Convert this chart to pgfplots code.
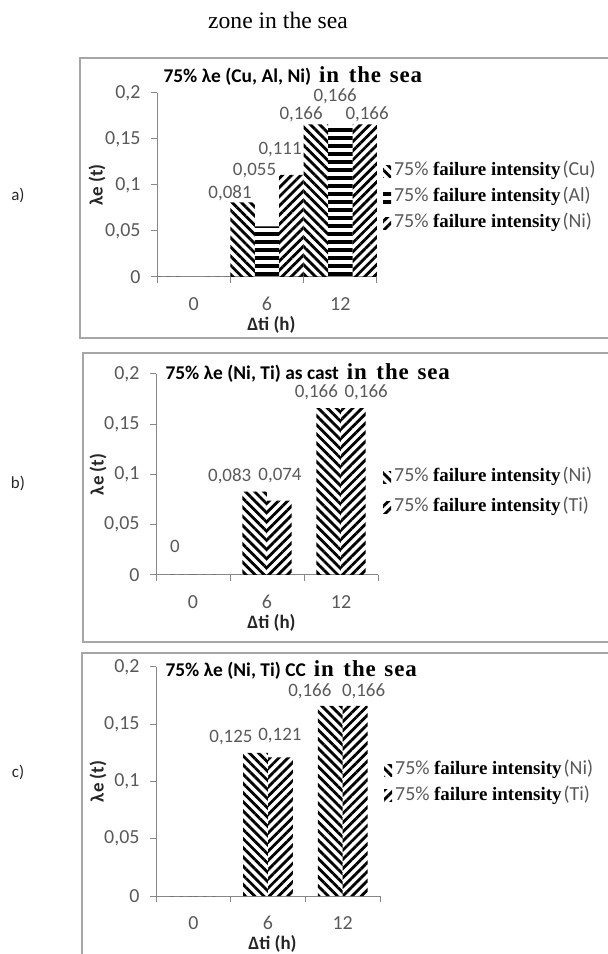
\documentclass[border=0pt]{standalone}
\usepackage{pgfplots}
\pgfplotsset{compat=1.18}
\usetikzlibrary{patterns.meta}
\usepackage{fontspec}
\setmainfont{Carlito}
\newfontfamily\serif{Liberation Serif}
\newfontfamily\titleserif{Liberation Serif}[LetterSpace=4]
\definecolor{labgray}{HTML}{595959}
\definecolor{axgray}{HTML}{878787}
\definecolor{framegray}{HTML}{A6A6A6}
\definecolor{txt}{HTML}{262626}
\tikzset{
  pNW/.style={pattern={Lines[angle=-45,distance=6.5bp,line width=2.8bp]}},
  pNE/.style={pattern={Lines[angle=45,distance=6.5bp,line width=2.8bp]}},
  pH/.style={pattern={Lines[angle=0,distance=8bp,line width=3.5bp]}},
  lab/.style={font=\fontsize{19}{19}\selectfont, text=labgray, inner sep=0pt},
}
\newcommand{\leg}[1]{{\color{labgray}75\%} {\serif\bfseries\fontsize{19}{19}\selectfont failure intensity}\kern2bp{\color{labgray}(#1)}}
\pgfplotsset{
  panel/.style={
    scale only axis, anchor=south west,
    xmin=-0.5, xmax=2.5, ymin=0, ymax=0.2,
    axis x line*=bottom, axis y line*=left,
    axis line style={axgray, line width=1bp},
    xtick={0,1,2}, xticklabels={0,6,12},
    minor xtick={-0.5,0.5,1.5,2.5},
    ytick={0,0.05,0.1,0.15,0.2},
    yticklabels={0,{0,05},{0,1},{0,15},{0,2}},
    tick align=outside,
    major tick length=6bp, minor tick length=6bp,
    tick style={axgray, line width=1bp},
    major x tick style={draw=none},
    /pgf/number format/assume math mode=true,
    ticklabel style={font=\fontsize{20}{20}\selectfont, text=labgray},
    yticklabel style={xshift=-7bp},
    xticklabel style={yshift=-11bp},
    xlabel={Δti (h)}, ylabel={λe (t)},
    label style={font=\bfseries\fontsize{19}{19}\selectfont, text=txt},
    xlabel style={at={(axis description cs:0.52,0)}, anchor=center, yshift=-48bp},
    legend cell align=left,
    legend style={draw=none, fill=none, inner sep=0pt, anchor=north west,
      font=\fontsize{20}{20}\selectfont,
      nodes={inner sep=1bp, text height=14bp, text depth=5bp, anchor=west},
      column sep=2bp},
    clip=false,
  },
  bars/.style={ybar, bar width=0.3333, draw=none, bar shift=#1},
}
\begin{document}
\begin{tikzpicture}
\useasboundingbox (0,0) rectangle (608bp,954bp);
% frames
\draw[framegray, line width=1.5bp] (80bp,896bp) rectangle (612bp,616bp);
\draw[framegray, line width=1.5bp] (83bp,601bp) rectangle (612bp,312bp);
\draw[framegray, line width=1.5bp] (82bp,301bp) rectangle (612bp,-3bp);
% main title
\node at (278bp,934bp) {\serif\fontsize{23.7}{24}\selectfont zone in the sea};
% panel letters
\node[text=txt, font=\fontsize{17}{17}\selectfont] at (18bp,759bp) {a)};
\node[text=txt, font=\fontsize{17}{17}\selectfont] at (18bp,471bp) {b)};
\node[text=txt, font=\fontsize{17}{17}\selectfont] at (18bp,182bp) {c)};

% ---------------- panel a
\begin{axis}[panel, at={(157bp,677bp)}, width=220bp, height=184bp,
  ylabel style={at={(axis description cs:-0.273,0.5)}, anchor=center},
  legend style={at={(axis description cs:1.027,0.633)}, row sep=5bp}]
\addplot[bars=-0.3333, pNW, legend image code/.code={\fill[pNW] (0bp,-6bp) rectangle (8bp,6bp);}]
  coordinates {(0,0) (1,0.081) (2,0.166)};
\addlegendentry{\leg{Cu}}
\addplot[bars=0, pH, legend image code/.code={\fill[pH] (0bp,-6bp) rectangle (8bp,6bp);}]
  coordinates {(0,0) (1,0.055) (2,0.166)};
\addlegendentry{\leg{Al}}
\addplot[bars=0.3333, pNE, legend image code/.code={\fill[pNE] (0bp,-6bp) rectangle (8bp,6bp);}]
  coordinates {(0,0) (1,0.111) (2,0.166)};
\addlegendentry{\leg{Ni}}
\node[lab] at (axis cs:0.496,0.0913) {0,081};
\node[lab] at (axis cs:0.83,0.116) {0,055};
\node[lab] at (axis cs:1.178,0.138) {0,111};
\node[lab] at (axis cs:1.465,0.177) {0,166};
\node[lab] at (axis cs:1.93,0.196) {0,166};
\node[lab] at (axis cs:2.365,0.177) {0,166};
\end{axis}
\node[anchor=base west, text=black] at (160bp,871bp) {\bfseries\fontsize{19.5}{20}\selectfont 75\% λe (Cu, Al, Ni)\hspace{8bp}{\titleserif\fontsize{23}{23}\selectfont in\hspace{3bp} the\hspace{2bp} sea}};

% ---------------- panel b
\begin{axis}[panel, at={(156bp,379bp)}, width=222bp, height=201bp,
  ylabel style={at={(axis description cs:-0.261,0.5)}, anchor=center},
  legend style={at={(axis description cs:1.0225,0.540)}, row sep=9bp}]
\addplot[bars=-0.1667, pNW, legend image code/.code={\fill[pNW] (0bp,-6bp) rectangle (8bp,6bp);}]
  coordinates {(0,0) (1,0.083) (2,0.166)};
\addlegendentry{\leg{Ni}}
\addplot[bars=0.1667, pNE, legend image code/.code={\fill[pNE] (0bp,-6bp) rectangle (8bp,6bp);}]
  coordinates {(0,0) (1,0.074) (2,0.166)};
\addlegendentry{\leg{Ti}}
\node[lab] at (axis cs:-0.244,0.028) {0};
\node[lab] at (axis cs:0.496,0.0985) {0,083};
\node[lab] at (axis cs:1.176,0.0985) {0,074};
\node[lab] at (axis cs:1.667,0.182) {0,166};
\node[lab] at (axis cs:2.34,0.182) {0,166};
\end{axis}
\node[anchor=base west, text=black] at (162bp,574bp) {\bfseries\fontsize{19.5}{20}\selectfont 75\% λe (Ni, Ti) as cast\hspace{8bp}{\titleserif\fontsize{23}{23}\selectfont in\hspace{3bp} the\hspace{2bp} sea}};

% ---------------- panel c
\begin{axis}[panel, at={(156bp,58bp)}, width=224bp, height=229bp,
  ylabel style={at={(axis description cs:-0.259,0.5)}, anchor=center},
  legend style={at={(axis description cs:1.018,0.596)}, row sep=4.5bp}]
\addplot[bars=-0.1667, pNW, legend image code/.code={\fill[pNW] (0bp,-6bp) rectangle (8bp,6bp);}]
  coordinates {(0,0) (1,0.125) (2,0.166)};
\addlegendentry{\leg{Ni}}
\addplot[bars=0.1667, pNE, legend image code/.code={\fill[pNE] (0bp,-6bp) rectangle (8bp,6bp);}]
  coordinates {(0,0) (1,0.121) (2,0.166)};
\addlegendentry{\leg{Ti}}
\node[lab] at (axis cs:0.504,0.138) {0,125};
\node[lab] at (axis cs:1.16,0.14) {0,121};
\node[lab] at (axis cs:1.56,0.179) {0,166};
\node[lab] at (axis cs:2.28,0.179) {0,166};
\end{axis}
\node[anchor=base west, text=black] at (162bp,277bp) {\bfseries\fontsize{19.5}{20}\selectfont 75\% λe (Ni, Ti) CC\hspace{8bp}{\titleserif\fontsize{23}{23}\selectfont in\hspace{3bp} the\hspace{2bp} sea}};
\end{tikzpicture}
\end{document}
